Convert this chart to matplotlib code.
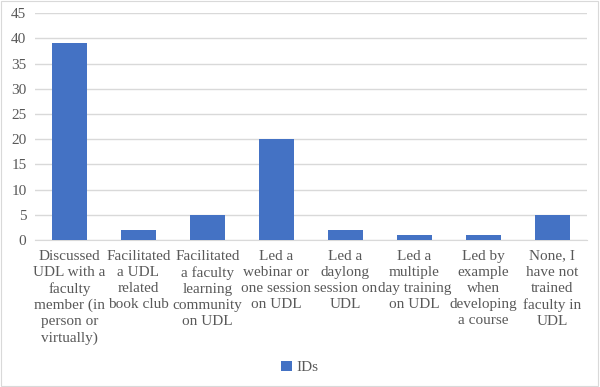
import matplotlib.pyplot as plt
from matplotlib.patches import Rectangle

categories = [
    "Discussed\nUDL with a\nfaculty\nmember (in\nperson or\nvirtually)",
    "Facilitated\na UDL\nrelated\nbook club",
    "Facilitated\na faculty\nlearning\ncommunity\non UDL",
    "Led a\nwebinar or\none session\non UDL",
    "Led a\ndaylong\nsession on\nUDL",
    "Led a\nmultiple\nday training\non UDL",
    "Led by\nexample\nwhen\ndeveloping\na course",
    "None, I\nhave not\ntrained\nfaculty in\nUDL",
]
ids_counts = [39, 2, 5, 20, 2, 1, 1, 5]

plt.rcParams['font.family'] = ['Liberation Serif', 'DejaVu Serif']

fig = plt.figure(figsize=(6, 3.87), dpi=100)
ax = fig.add_axes([0.058, 0.380, 0.920, 0.586])

x = range(len(categories))
ax.bar(x, ids_counts, width=0.5, color="#4472C4", label="IDs", zorder=3)

ax.set_ylim(0, 45)
ax.set_yticks(range(0, 46, 5))
ax.set_xlim(-0.5, len(categories) - 0.5)
ax.set_xticks(list(x))
ax.set_xticklabels(categories, fontsize=11, color="#595959", linespacing=1.3)
ax.tick_params(axis='y', labelsize=11, colors="#595959", length=0, pad=6)
ax.tick_params(axis='x', length=0, pad=7)

ax.grid(axis='y', color="#D9D9D9", linewidth=1, zorder=0)
for s in ['top', 'right', 'left']:
    ax.spines[s].set_visible(False)
ax.spines['bottom'].set_color("#D9D9D9")

fig.legend(loc='center', bbox_to_anchor=(0.5, 0.05), frameon=False,
           fontsize=11, labelcolor="#595959", handlelength=0.7,
           handleheight=0.7, handletextpad=0.3)

# light chart-area border
fig.patches.append(Rectangle((0.002, 0.002), 0.994, 0.995, transform=fig.transFigure,
                             fill=False, edgecolor="#D9D9D9", linewidth=0.8))

fig.savefig("out.png", dpi=100)
